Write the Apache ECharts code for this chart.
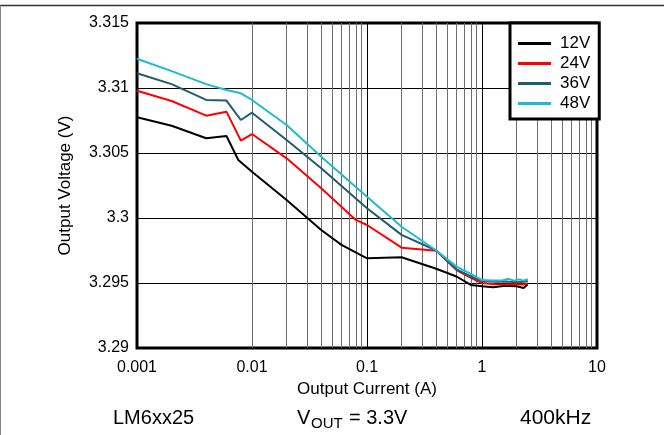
<!DOCTYPE html>
<html>
<head>
<meta charset="utf-8">
<script src="https://cdn.jsdelivr.net/npm/echarts@6/dist/echarts.min.js"></script>
<style>
html,body{margin:0;padding:0;background:#fff;}
#chart{width:664px;height:435px;}
</style>
</head>
<body>
<div id="chart"></div>
<script>
// ---- data ----
const seriesNames = ['12V', '24V', '36V', '48V'];

const current12 = [0.001, 0.002, 0.004, 0.006, 0.0076, 0.01, 0.02, 0.04, 0.06, 0.1, 0.2, 0.4, 0.6, 0.8, 1.0, 1.25, 1.6, 2.0, 2.3, 2.5];
const volt12    = [3.30775, 3.3071, 3.30613, 3.30631, 3.30446, 3.30356, 3.30139, 3.29908, 3.29793, 3.2969, 3.29698, 3.2961, 3.2955, 3.29485, 3.29475, 3.29468, 3.29478, 3.29475, 3.29462, 3.2949];

const current24 = [0.001, 0.002, 0.004, 0.006, 0.008, 0.01, 0.02, 0.04, 0.08, 0.1, 0.2, 0.4, 0.6, 0.8, 1.0, 1.3, 1.6, 2.0, 2.3, 2.5];
const volt24    = [3.30979, 3.309, 3.30787, 3.30818, 3.30595, 3.30646, 3.30459, 3.30229, 3.29985, 3.29946, 3.29772, 3.29749, 3.296, 3.2954, 3.295, 3.2949, 3.29488, 3.2949, 3.29488, 3.29498];

const current36 = [0.001, 0.002, 0.004, 0.006, 0.008, 0.01, 0.02, 0.04, 0.1, 0.2, 0.4, 0.6, 0.8, 1.0, 1.3, 1.6, 2.0, 2.3, 2.5];
const volt36    = [3.31113, 3.3103, 3.30908, 3.30903, 3.30754, 3.3081, 3.306, 3.30382, 3.30075, 3.2987, 3.2975, 3.29605, 3.2955, 3.29515, 3.2951, 3.29512, 3.29505, 3.2951, 3.29515];

const current48 = [0.001, 0.002, 0.004, 0.006, 0.008, 0.01, 0.02, 0.04, 0.1, 0.2, 0.4, 0.6, 0.8, 1.0, 1.2, 1.5, 1.7, 1.9, 2.1, 2.3, 2.5];
const volt48    = [3.31225, 3.3113, 3.3103, 3.30985, 3.30959, 3.30908, 3.30715, 3.30472, 3.30164, 3.29933, 3.2975, 3.29626, 3.2957, 3.29523, 3.2952, 3.2952, 3.29532, 3.29518, 3.29528, 3.29518, 3.2953];

const xTickLabels = [0.001, 0.01, 0.1, 1, 10];
const yTickLabels = [3.29, 3.295, 3.3, 3.305, 3.31, 3.315];
const minorGrid = [];
[0.001, 0.01, 0.1, 1].forEach(d => { for (let k = 2; k <= 9; k++) minorGrid.push(+(d * k).toPrecision(3)); });

// ---- chart ----
const FONT = 'Liberation Sans, Arial, sans-serif';
const colors = ['#000000', '#ff0000', '#1d5d70', '#1cbbd0'];
const zip = (xs, ys) => xs.map((x, i) => [x, ys[i]]);
const allData = [zip(current12, volt12), zip(current24, volt24), zip(current36, volt36), zip(current48, volt48)];

const chart = echarts.init(document.getElementById('chart'), null, {renderer: 'canvas'});

const series = [{
  name: 'minor',
  type: 'line',
  data: [],
  silent: true,
  markLine: {
    silent: true,
    animation: false,
    symbol: ['none', 'none'],
    label: {show: false},
    lineStyle: {color: '#6e6e6e', width: 1, type: 'solid'},
    emphasis: {disabled: true},
    data: minorGrid.map(v => ({xAxis: v}))
  }
}];
seriesNames.forEach((n, i) => {
  series.push({
    name: n,
    type: 'line',
    data: allData[i],
    symbol: 'none',
    z: 10,
    lineStyle: {color: colors[i], width: 2},
    itemStyle: {color: colors[i]},
    animation: false
  });
});

chart.setOption({
  animation: false,
  textStyle: {fontFamily: FONT},
  grid: {left: 137, top: 23, width: 460, height: 325, show: true, borderColor: '#000', borderWidth: 3, backgroundColor: 'transparent'},
  legend: {
    data: seriesNames,
    orient: 'vertical',
    left: 510, top: 23,
    z: 30,
    icon: 'rect',
    itemWidth: 33, itemHeight: 3, itemGap: 3,
    padding: [12, 9, 7, 8],
    borderColor: '#000', borderWidth: 3,
    backgroundColor: '#fff',
    textStyle: {fontSize: 17, lineHeight: 16, color: '#000', fontFamily: FONT, padding: [0, 0, 0, 4]},
    selectedMode: false
  },
  xAxis: {
    type: 'log',
    logBase: 10,
    min: 0.001,
    max: 10,
    name: 'Output Current (A)',
    nameLocation: 'middle',
    nameGap: 31,
    nameTextStyle: {fontSize: 17, color: '#000', fontFamily: FONT},
    axisLine: {show: false},
    axisTick: {show: false},
    axisLabel: {
      fontSize: 16, color: '#000', margin: 12, fontFamily: FONT,
      formatter: v => { const m = xTickLabels.find(t => Math.abs(t - v) / t < 1e-6); return m === undefined ? '' : String(m); }
    },
    splitLine: {show: true, lineStyle: {color: '#000', width: 1}}
  },
  yAxis: {
    type: 'value',
    min: 3.29,
    max: 3.315,
    interval: 0.005,
    name: 'Output Voltage (V)',
    nameLocation: 'middle',
    nameGap: 63,
    nameTextStyle: {fontSize: 17, color: '#000', fontFamily: FONT},
    axisLine: {show: false},
    axisTick: {show: false},
    axisLabel: {
      fontSize: 16, color: '#000', margin: 8, fontFamily: FONT,
      formatter: v => { const m = yTickLabels.find(t => Math.abs(t - v) < 1e-7); return m === undefined ? '' : String(m); }
    },
    splitLine: {show: true, lineStyle: {color: '#000', width: 1}}
  },
  series: series,
  graphic: [
    {type: 'line', shape: {x1: 0, y1: 5.5, x2: 664, y2: 5.5}, style: {stroke: '#333', lineWidth: 1.5}, silent: true},
    {type: 'line', shape: {x1: 0.5, y1: 5.5, x2: 0.5, y2: 435}, style: {stroke: '#888', lineWidth: 1}, silent: true},
    {type: 'text', left: 113, top: 408, style: {text: 'LM6xx25', font: '20px ' + FONT, fill: '#000'}},
    {type: 'text', left: 297, top: 408, style: {text: 'V', font: '20px ' + FONT, fill: '#000'}},
    {type: 'text', left: 311, top: 416, style: {text: 'OUT', font: '15px ' + FONT, fill: '#000'}},
    {type: 'text', left: 349, top: 408, style: {text: '= 3.3V', font: '20px ' + FONT, fill: '#000'}},
    {type: 'text', left: 520, top: 408, style: {text: '400kHz', font: '21px ' + FONT, fill: '#000'}}
  ]
});
</script>
</body>
</html>
